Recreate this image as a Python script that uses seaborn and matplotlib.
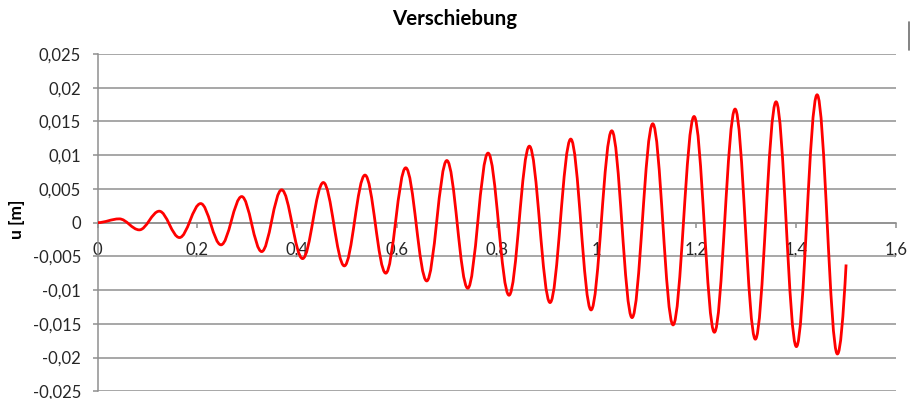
import matplotlib
matplotlib.use("Agg")
import matplotlib.pyplot as plt
from matplotlib.path import Path
from matplotlib.patches import PathPatch
from matplotlib.lines import Line2D
import seaborn as sns

# Turning points of the displacement history (time in s, displacement in m)
turn_t = [0.0, 0.0437, 0.0838, 0.1238, 0.1643, 0.2068, 0.2475, 0.289, 0.329,
          0.369, 0.411, 0.4525, 0.4946, 0.536, 0.5776, 0.6176, 0.6597, 0.700,
          0.7419, 0.7826, 0.8246, 0.8654, 0.9068, 0.9483, 0.989, 1.0305,
          1.0711, 1.1126, 1.1533, 1.1954, 1.2361, 1.2776, 1.3182, 1.3597,
          1.4004, 1.4419, 1.4826]
turn_u = [0.0, 0.00056, -0.00107, 0.0017, -0.00221, 0.00283, -0.00329,
          0.00387, -0.00429, 0.00487, -0.00533, 0.00595, -0.00641, 0.00705,
          -0.00749, 0.00813, -0.00864, 0.00921, -0.00972, 0.01031, -0.01076,
          0.01134, -0.01185, 0.01239, -0.01294, 0.01362, -0.01408, 0.01466,
          -0.01516, 0.01574, -0.01625, 0.01684, -0.01728, 0.01792, -0.01838,
          0.01896, -0.01947]
end_t = 1.5
end_u = -0.0062

x_ticks = [0, 0.2, 0.4, 0.6, 0.8, 1.0, 1.2, 1.4, 1.6]
x_labels = ["0", "0,2", "0,4", "0,6", "0,8", "1", "1,2", "1,4", "1,6"]
y_ticks = [0.025, 0.02, 0.015, 0.01, 0.005, 0, -0.005, -0.01, -0.015, -0.02, -0.025]
y_labels = ["0,025", "0,02", "0,015", "0,01", "0,005", "0", "-0,005", "-0,01",
            "-0,015", "-0,02", "-0,025"]

sns.set_theme(style="white")
plt.rcParams["font.family"] = ["Lato", "DejaVu Sans"]

GRID = "#8f8f8f"
fig = plt.figure(figsize=(9.15, 3.99), dpi=100)
ax = fig.add_axes([97.5 / 915, 1 - 391.3 / 399, 798.5 / 915, 337.3 / 399])

ax.set_xlim(0, 1.6)
ax.set_ylim(-0.025, 0.025)

# horizontal gridlines
for yv in y_ticks:
    ax.axhline(yv, color=GRID, lw=1.1, zorder=1)

for side in ("top", "right"):
    ax.spines[side].set_visible(False)
ax.spines["left"].set_color(GRID)
ax.spines["left"].set_linewidth(1.1)
ax.spines["bottom"].set_position(("data", 0))
ax.spines["bottom"].set_color(GRID)
ax.spines["bottom"].set_linewidth(1.1)

ax.set_xticks(x_ticks)
ax.set_xticklabels(x_labels)
ax.set_yticks(y_ticks)
ax.set_yticklabels(y_labels)
ax.tick_params(axis="y", direction="out", length=3.6, width=1.1, color=GRID,
               pad=8.2, labelsize=12, labelcolor="#262626", left=True)
ax.tick_params(axis="x", direction="out", length=3.6, width=1.1, color=GRID,
               pad=10, labelsize=12, labelcolor="#262626", bottom=True)

# smoothed line through the turning points (horizontal tangent at each extremum)
k = 0.363
verts = [(turn_t[0], turn_u[0])]
codes = [Path.MOVETO]
for i in range(len(turn_t) - 1):
    ta, ua = turn_t[i], turn_u[i]
    tb, ub = turn_t[i + 1], turn_u[i + 1]
    dt = tb - ta
    verts += [(ta + k * dt, ua), (tb - k * dt, ub), (tb, ub)]
    codes += [Path.CURVE4] * 3
ta, ua = turn_t[-1], turn_u[-1]
dt = end_t - ta
verts += [(ta + dt / 3, ua), (end_t - dt / 3, end_u - 0.6 * (end_u - ua)), (end_t, end_u)]
codes += [Path.CURVE4] * 3
ax.add_patch(PathPatch(Path(verts, codes), facecolor="none", edgecolor="#ff0000",
                       lw=2.0, zorder=3, capstyle="butt", joinstyle="round"))

fig.text(455 / 915, 1 - 25 / 399, "Verschiebung", ha="center", va="baseline",
         fontsize=14.8, fontweight="bold", color="#000000")
fig.text(17 / 915, 1 - 219 / 399, "u [m]", ha="center", va="center", rotation=90,
         fontsize=12.5, fontweight="bold", color="#000000")

fig.add_artist(Line2D([909.3 / 915, 909.3 / 915], [1 - 22 / 399, 1 - 50 / 399],
                      color="#6e6e6e", lw=1.2))

fig.savefig("out.png", dpi=100)
